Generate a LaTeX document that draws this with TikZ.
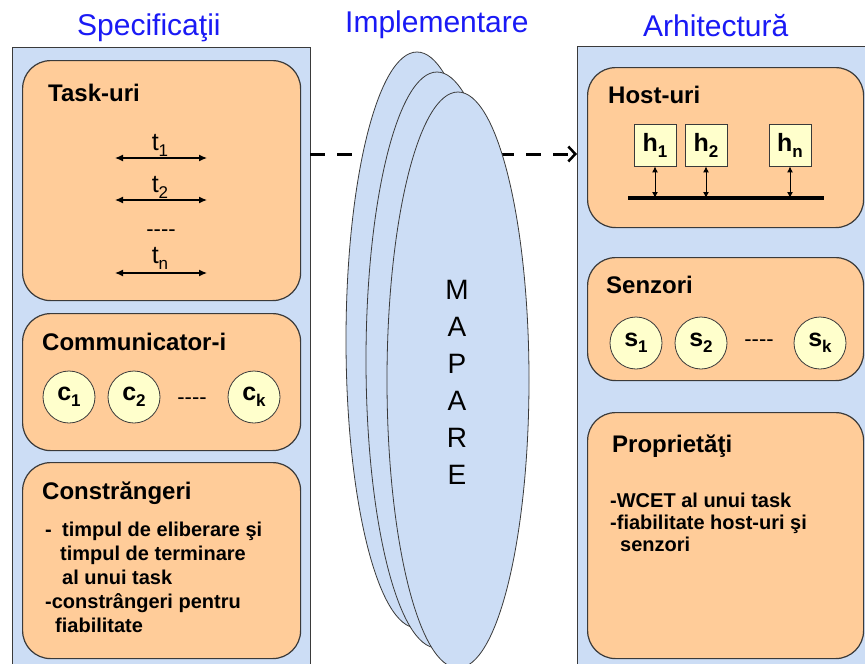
\documentclass[tikz,border=0pt]{standalone}
\usepackage{fontspec}
\setmainfont{Liberation Sans}
\usetikzlibrary{arrows.meta,shapes.geometric}
\definecolor{panelblue}{HTML}{CCDDF5}
\definecolor{boxorange}{HTML}{FFCC99}
\definecolor{nodeyellow}{HTML}{FFFFCC}
\definecolor{titleblue}{HTML}{1A1AF5}
\definecolor{edgegray}{HTML}{3A3A3A}
\newcommand{\fsz}[1]{\fontsize{#1}{#1}\selectfont}
\newcommand{\sbs}[1]{\raisebox{-6pt}{\fontsize{17}{17}\selectfont #1}}
\tikzset{
  panel/.style={draw=edgegray, fill=panelblue, line width=0.8pt, anchor=north west, inner sep=0pt},
  obox/.style={draw=edgegray, fill=boxorange, rounded corners=28pt, line width=1.2pt, anchor=north west, inner sep=0pt},
  head/.style={anchor=base west, font=\bfseries\fsz{24}, inner sep=0pt},
  body/.style={anchor=base west, font=\bfseries\fsz{20}, inner sep=0pt},
  ttl/.style={anchor=base west, font=\fsz{30}, text=titleblue, inner sep=0pt},
  tlab/.style={anchor=base, font=\fsz{25}, inner sep=0pt},
  dlab/.style={anchor=base, font=\fsz{22}, inner sep=0pt},
  circ/.style={circle, draw=edgegray, fill=nodeyellow, minimum size=52pt, inner sep=0pt, font=\bfseries\fsz{25}, line width=0.8pt},
  hbox/.style={draw=edgegray, fill=nodeyellow, minimum size=42pt, inner sep=0pt, font=\bfseries\fsz{25}, line width=0.8pt},
  ell/.style={ellipse, draw=edgegray, fill=panelblue, minimum width=142pt, minimum height=576pt, inner sep=0pt, line width=0.8pt},
  tarrow/.style={{Latex[length=8pt,width=7pt]}-{Latex[length=8pt,width=7pt]}, line width=1.2pt},
  harrow/.style={{Latex[length=6pt,width=6pt]}-{Latex[length=6pt,width=6pt]}, line width=1pt},
  maparrow/.style={line width=3pt, dash pattern=on 15pt off 12pt, -{Straight Barb[length=7pt,width=15pt,line width=2.5pt]}}
}
\begin{document}
\begin{tikzpicture}[x=1pt,y=-1pt]
\useasboundingbox (0,0) rectangle (865,664);
\clip (0,0) rectangle (865,664);
\fill[white] (0,0) rectangle (865,664);

% titles
\node[ttl] (tspec) at (77,35) {Specificaţii};
\node[ttl] (timpl) at (345,32) {Implementare};
\node[ttl] (tarch) at (643,36) {Arhitectură};

% panels
\node[panel, minimum width=298pt, minimum height=640pt] (lpanel) at (12,47) {};
\node[panel, minimum width=300pt, minimum height=640pt] (rpanel) at (577,46) {};

% dashed mapping arrow (behind the ellipses)
\coordinate (arrL) at (310,154);
\coordinate (arrR) at (577,154);
\draw[maparrow] (arrL) -- (arrR);

% ellipses
\node[ell] (e1) at (417,340) {};
\node[ell] (e2) at (437,360) {};
\node[ell] (e3) at (458,380) {};
\node[align=center, font=\fontsize{28}{37}\selectfont, inner sep=0pt] (mapare) at (457,382) {M\\A\\P\\A\\R\\E};

% ---- left: Task-uri
\node[obox, minimum width=278pt, minimum height=240pt] (task) at (22,60) {};
\node[head] (taskh) at (48,101) {Task-uri};
\node[tlab] (t1) at (160,150) {t\sbs{1}};
\node[tlab] (t2) at (160,192) {t\sbs{2}};
\node[dlab] (tdots) at (161,236) {-{}-{}-{}-};
\node[tlab] (tn) at (160,263) {t\sbs{n}};
\coordinate (t1l) at (115,158); \coordinate (t1r) at (207,158);
\coordinate (t2l) at (115,200); \coordinate (t2r) at (207,200);
\coordinate (tnl) at (115,273); \coordinate (tnr) at (207,273);
\draw[tarrow] (t1l) -- (t1r);
\draw[tarrow] (t2l) -- (t2r);
\draw[tarrow] (tnl) -- (tnr);

% ---- left: Communicator-i
\node[obox, minimum width=278pt, minimum height=137pt] (comm) at (22,313) {};
\node[head] (commh) at (42,350) {Communicator-i};
\node[circ] (c1) at (69,397) {c\sbs{1}};
\node[circ] (c2) at (134,397) {c\sbs{2}};
\node[dlab] (cdots) at (192,404) {-{}-{}-{}-};
\node[circ] (ck) at (254,397) {c\sbs{k}};

% ---- left: Constrangeri
\node[obox, minimum width=278pt, minimum height=196pt] (constr) at (22,462) {};
\node[head] (constrh) at (42,499) {Constrăngeri};
\node[body] (cl1a) at (45,536) {-};
\node[body] (cl1) at (62,536) {timpul de eliberare şi};
\node[body] (cl2) at (60,560) {timpul de terminare};
\node[body] (cl3) at (62,584) {al unui task};
\node[body] (cl4) at (45,608) {-constrângeri pentru};
\node[body] (cl5) at (55,632) {fiabilitate};

% ---- right: Host-uri
\node[obox, minimum width=276pt, minimum height=160pt] (host) at (587,67) {};
\node[head] (hosth) at (608,103) {Host-uri};
\node[hbox] (h1) at (655,145) {h\sbs{1}};
\node[hbox] (h2) at (706,145) {h\sbs{2}};
\node[hbox] (hn) at (790,145) {h\sbs{n}};
\coordinate (busl) at (628,198);
\coordinate (busr) at (824,198);
\draw[line width=4.5pt] (busl) -- (busr);
\draw[harrow] (h1.south) -- (h1.south |- busl);
\draw[harrow] (h2.south) -- (h2.south |- busl);
\draw[harrow] (hn.south) -- (hn.south |- busl);

% ---- right: Senzori
\node[obox, minimum width=276pt, minimum height=123pt] (senz) at (587,257) {};
\node[head] (senzh) at (606,293) {Senzori};
\node[circ] (s1) at (636,343) {s\sbs{1}};
\node[circ] (s2) at (701,343) {s\sbs{2}};
\node[dlab] (sdots) at (759,346) {-{}-{}-{}-};
\node[circ] (sk) at (820,343) {s\sbs{k}};

% ---- right: Proprietati
\node[obox, minimum width=276pt, minimum height=246pt] (prop) at (587,412) {};
\node[head] (proph) at (612,452) {Proprietăţi};
\node[body] (pl1) at (610,507) {-WCET al unui task};
\node[body] (pl2) at (610,529) {-fiabilitate host-uri şi};
\node[body] (pl3) at (620,551) {senzori};
\end{tikzpicture}
\end{document}
